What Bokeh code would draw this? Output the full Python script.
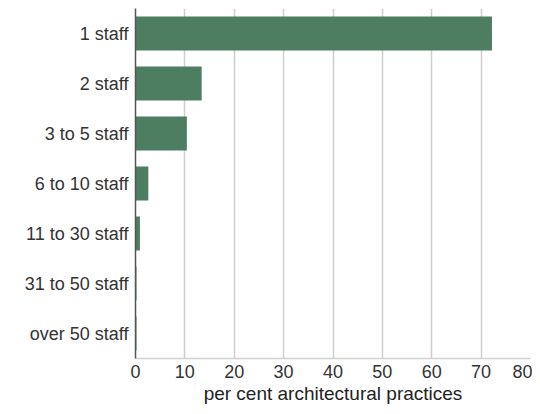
from bokeh.plotting import figure
from bokeh.models import FactorRange, Range1d, FixedTicker
from bokeh.embed import file_html
from bokeh.resources import INLINE

categories = ["1 staff", "2 staff", "3 to 5 staff", "6 to 10 staff",
              "11 to 30 staff", "31 to 50 staff", "over 50 staff"]
percent = [72.2, 13.4, 10.4, 2.6, 0.9, 0.2, 0.2]
x_ticks = [0, 10, 20, 30, 40, 50, 60, 70, 80]

p = figure(width=532, height=406, output_backend="svg", toolbar_location=None,
           title=None,
           y_range=FactorRange(*reversed(categories)), x_range=Range1d(0, 80),
           min_border_left=135, min_border_right=2, min_border_top=8,
           min_border_bottom=40)
p.outline_line_color = None

p.hbar(y=categories, right=percent, left=0, height=0.68,
       fill_color="#4d7e62", line_color=None)

font = "Liberation Sans"
p.xaxis.ticker = FixedTicker(ticks=x_ticks)
p.xaxis.axis_label = "per cent architectural practices"
p.xaxis.axis_label_text_font = font
p.xaxis.axis_label_text_font_style = "normal"
p.xaxis.axis_label_text_font_size = "19px"
p.xaxis.axis_label_text_color = "#222222"
p.xaxis.axis_label_standoff = 2
p.xaxis.major_label_text_font = font
p.xaxis.major_label_text_font_size = "18px"
p.xaxis.major_label_text_color = "#333333"
p.xaxis.major_label_standoff = 6
p.xaxis.major_tick_out = 0
p.xaxis.major_tick_in = 0
p.xaxis.axis_line_color = "#d0d0d0"
p.xaxis.axis_line_width = 1.5
p.xaxis.major_tick_line_color = None
p.xaxis.minor_tick_line_color = None

p.yaxis.major_label_text_font = font
p.yaxis.major_label_text_font_size = "18px"
p.yaxis.major_label_text_color = "#333333"
p.yaxis.major_label_standoff = 7
p.yaxis.major_tick_out = 0
p.yaxis.major_tick_in = 0
p.yaxis.axis_line_color = "#555555"
p.yaxis.axis_line_width = 1.5
p.yaxis.major_tick_line_color = None
p.yaxis.minor_tick_line_color = None

p.xgrid.ticker = FixedTicker(ticks=x_ticks)
p.xgrid.grid_line_color = "#cfcfcf"
p.xgrid.grid_line_width = 1.5
p.ygrid.grid_line_color = None

open("out.html", "w").write(file_html(p, INLINE))
